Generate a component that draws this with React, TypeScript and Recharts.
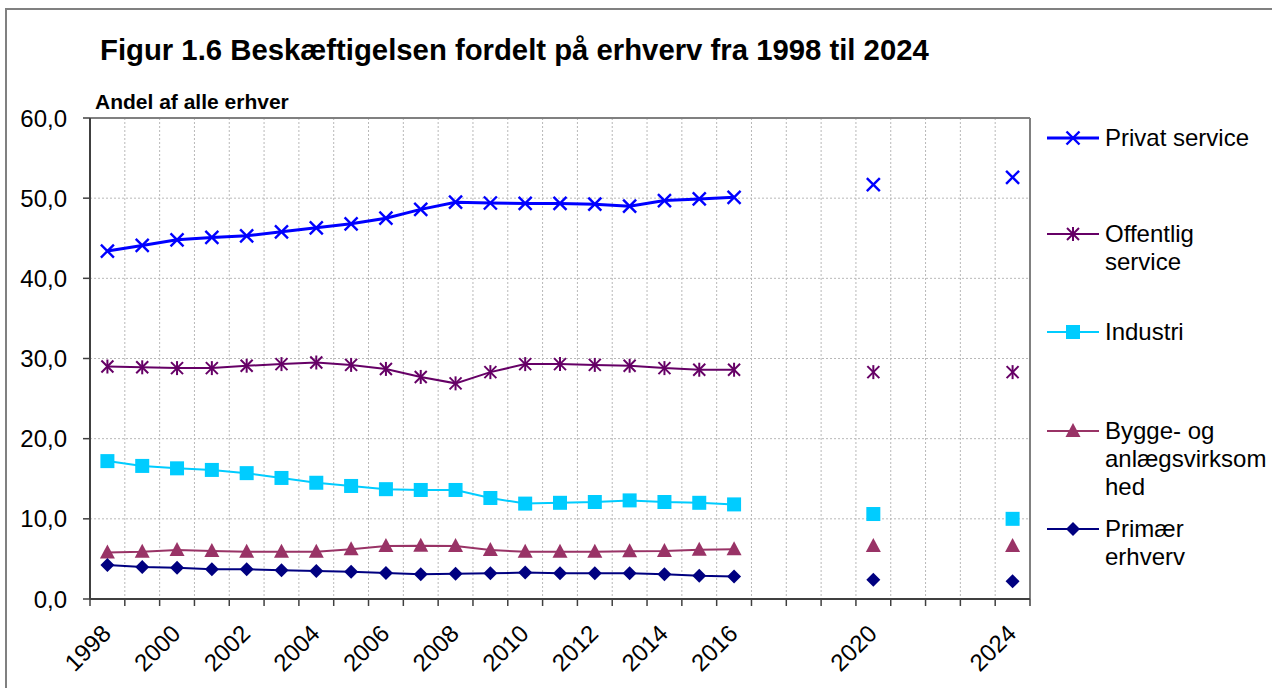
import React from 'react';
import { LineChart, Line, XAxis, YAxis, CartesianGrid, ReferenceLine } from 'recharts';

// ---- data ----
const years = [1998, 1999, 2000, 2001, 2002, 2003, 2004, 2005, 2006, 2007, 2008, 2009, 2010, 2011, 2012, 2013, 2014, 2015, 2016, 2017, 2018, 2019, 2020, 2021, 2022, 2023, 2024];
const privatService = [43.4, 44.1, 44.8, 45.1, 45.3, 45.8, 46.3, 46.8, 47.5, 48.6, 49.5, 49.4, 49.35, 49.35, 49.25, 49.0, 49.7, 49.9, 50.1, null, null, null, 51.7, null, null, null, 52.6];
const offentligService = [29.0, 28.9, 28.8, 28.8, 29.1, 29.3, 29.5, 29.2, 28.7, 27.7, 26.9, 28.3, 29.3, 29.3, 29.2, 29.1, 28.8, 28.6, 28.6, null, null, null, 28.3, null, null, null, 28.3];
const industri = [17.2, 16.6, 16.3, 16.1, 15.7, 15.1, 14.5, 14.1, 13.7, 13.6, 13.6, 12.6, 11.9, 12.0, 12.1, 12.3, 12.1, 12.0, 11.8, null, null, null, 10.6, null, null, null, 10.0];
const byggeAnlaeg = [5.8, 5.9, 6.1, 6.0, 5.9, 5.9, 5.9, 6.2, 6.6, 6.65, 6.6, 6.1, 5.9, 5.9, 5.9, 5.95, 6.0, 6.15, 6.2, null, null, null, 6.6, null, null, null, 6.6];
const primaer = [4.25, 4.0, 3.9, 3.7, 3.7, 3.6, 3.5, 3.4, 3.25, 3.1, 3.15, 3.2, 3.3, 3.2, 3.2, 3.2, 3.1, 2.9, 2.8, null, null, null, 2.4, null, null, null, 2.2];

const xTickLabels = [1998, 2000, 2002, 2004, 2006, 2008, 2010, 2012, 2014, 2016, 2020, 2024];
const yTicks = [0, 10, 20, 30, 40, 50, 60];

const title = 'Figur 1.6 Beskæftigelsen fordelt på erhverv fra 1998 til 2024';
const yAxisTitle = 'Andel af alle erhver';

type Kind = 'x' | 'star' | 'square' | 'triangle' | 'diamond';
const seriesInfo: { key: string; lines: string[]; color: string; kind: Kind; width: number }[] = [
  { key: 'privat', lines: ['Privat service'], color: '#0000FF', kind: 'x', width: 3 },
  { key: 'offentlig', lines: ['Offentlig', 'service'], color: '#660066', kind: 'star', width: 2 },
  { key: 'industri', lines: ['Industri'], color: '#00CCFF', kind: 'square', width: 2 },
  { key: 'bygge', lines: ['Bygge- og', 'anlægsvirksom', 'hed'], color: '#993366', kind: 'triangle', width: 2 },
  { key: 'primaer', lines: ['Primær', 'erhverv'], color: '#000080', kind: 'diamond', width: 2 },
];

const data = years.map((year, i) => ({
  year,
  privat: privatService[i],
  offentlig: offentligService[i],
  industri: industri[i],
  bygge: byggeAnlaeg[i],
  primaer: primaer[i],
}));

const gridTicks = [...years.map((y) => y - 0.5), years[years.length - 1] + 0.5];
const xDomain = [years[0] - 0.5, years[years.length - 1] + 0.5];

// ---- markers ----
function Marker({ kind, color, cx, cy }: { kind: Kind; color: string; cx: number; cy: number }) {
  switch (kind) {
    case 'x':
      return (
        <g stroke={color} strokeWidth={2.4}>
          <line x1={cx - 6.5} y1={cy - 6.5} x2={cx + 6.5} y2={cy + 6.5} />
          <line x1={cx - 6.5} y1={cy + 6.5} x2={cx + 6.5} y2={cy - 6.5} />
        </g>
      );
    case 'star':
      return (
        <g stroke={color} strokeWidth={2}>
          <line x1={cx - 6} y1={cy - 6} x2={cx + 6} y2={cy + 6} />
          <line x1={cx - 6} y1={cy + 6} x2={cx + 6} y2={cy - 6} />
          <line x1={cx} y1={cy - 7} x2={cx} y2={cy + 7} />
        </g>
      );
    case 'square':
      return <rect x={cx - 7} y={cy - 7} width={14} height={14} fill={color} />;
    case 'triangle':
      return <polygon points={`${cx},${cy - 8} ${cx + 7.5},${cy + 6} ${cx - 7.5},${cy + 6}`} fill={color} />;
    case 'diamond':
    default:
      return <polygon points={`${cx},${cy - 7} ${cx + 7},${cy} ${cx},${cy + 7} ${cx - 7},${cy}`} fill={color} />;
  }
}

const makeDot = (kind: Kind, color: string, name: string) => (p: any) => {
  const k = `${name}-${p.index}`;
  if (p.value == null || p.cx == null || p.cy == null || isNaN(p.cy)) return <g key={k} />;
  return (
    <g key={k}>
      <Marker kind={kind} color={color} cx={p.cx} cy={p.cy} />
    </g>
  );
};

const EmptyTick = () => <g />;

const XLabel = (props: any) => {
  const { x, y, payload } = props;
  const px = x + 5;
  const py = y + 35;
  return (
    <text x={px} y={py} transform={`rotate(-45 ${px} ${py})`} textAnchor="end" fontSize={24} fill="#000">
      {payload.value}
    </text>
  );
};

const fmt = (v: number) => v.toFixed(1).replace('.', ',');

const legendY = [138, 234, 332, 431, 529];

export default function App() {
  const font = '"Liberation Sans", Arial, sans-serif';
  return (
    <div style={{ position: 'absolute', left: 0, top: 0, width: 1272, height: 688, background: '#fff', fontFamily: font, overflow: 'hidden' }}>
      <div style={{ position: 'absolute', left: 5, top: 8, width: 1400, height: 800, borderLeft: '2px solid #808080', borderTop: '2px solid #808080' }} />
      <div style={{ position: 'absolute', left: 100, top: 33, fontSize: 29.3, fontWeight: 'bold', lineHeight: '34px', whiteSpace: 'nowrap', color: '#000' }}>{title}</div>
      <div style={{ position: 'absolute', left: 95, top: 90, fontSize: 21, fontWeight: 'bold', lineHeight: '24px', whiteSpace: 'nowrap', color: '#000' }}>{yAxisTitle}</div>
      <div style={{ position: 'absolute', left: 0, top: 0 }}>
        <LineChart width={1272} height={688} data={data} margin={{ top: 118, right: 242, bottom: 0, left: 0 }}>
          <CartesianGrid xAxisId="g" stroke="#b8b8b8" strokeDasharray="2 2" />
          <XAxis
            xAxisId="g"
            dataKey="year"
            type="number"
            domain={xDomain}
            ticks={gridTicks}
            interval={0}
            height={1}
            tick={<EmptyTick />}
            tickSize={7}
            tickLine={{ stroke: '#404040', strokeWidth: 1.5 }}
            axisLine={{ stroke: '#404040', strokeWidth: 2 }}
          />
          <XAxis
            xAxisId="lab"
            dataKey="year"
            type="number"
            domain={xDomain}
            ticks={xTickLabels}
            interval={0}
            height={88}
            tickSize={0}
            tickMargin={0}
            tickLine={false}
            axisLine={false}
            tick={<XLabel />}
          />
          <YAxis
            domain={[0, 60]}
            ticks={yTicks}
            interval={0}
            width={90}
            tickSize={7}
            tickMargin={16}
            tickFormatter={fmt}
            tick={{ fontSize: 24, fill: '#000' }}
            tickLine={{ stroke: '#404040', strokeWidth: 1.5 }}
            axisLine={{ stroke: '#404040', strokeWidth: 2 }}
          />
          <ReferenceLine y={60} stroke="#808080" strokeWidth={2} xAxisId="g" />
          <ReferenceLine x={xDomain[1]} stroke="#808080" strokeWidth={2} xAxisId="g" />
          {seriesInfo.map((s) => (
            <Line
              key={s.key}
              xAxisId="lab"
              dataKey={s.key}
              stroke={s.color}
              strokeWidth={s.width}
              connectNulls={false}
              isAnimationActive={false}
              dot={makeDot(s.kind, s.color, s.key)}
              activeDot={false}
            />
          ))}
        </LineChart>
      </div>
      {seriesInfo.map((s, i) => (
        <div key={s.key} style={{ position: 'absolute', left: 1045, top: legendY[i] - 14, display: 'flex', alignItems: 'flex-start' }}>
          <svg width={56} height={28} style={{ display: 'block' }}>
            <line x1={2} y1={14} x2={54} y2={14} stroke={s.color} strokeWidth={s.width} />
            <Marker kind={s.kind} color={s.color} cx={28} cy={14} />
          </svg>
          <div style={{ marginLeft: 4, fontSize: 24, lineHeight: '28px', color: '#000', whiteSpace: 'nowrap' }}>
            {s.lines.map((l, j) => (
              <div key={j}>{l}</div>
            ))}
          </div>
        </div>
      ))}
    </div>
  );
}
